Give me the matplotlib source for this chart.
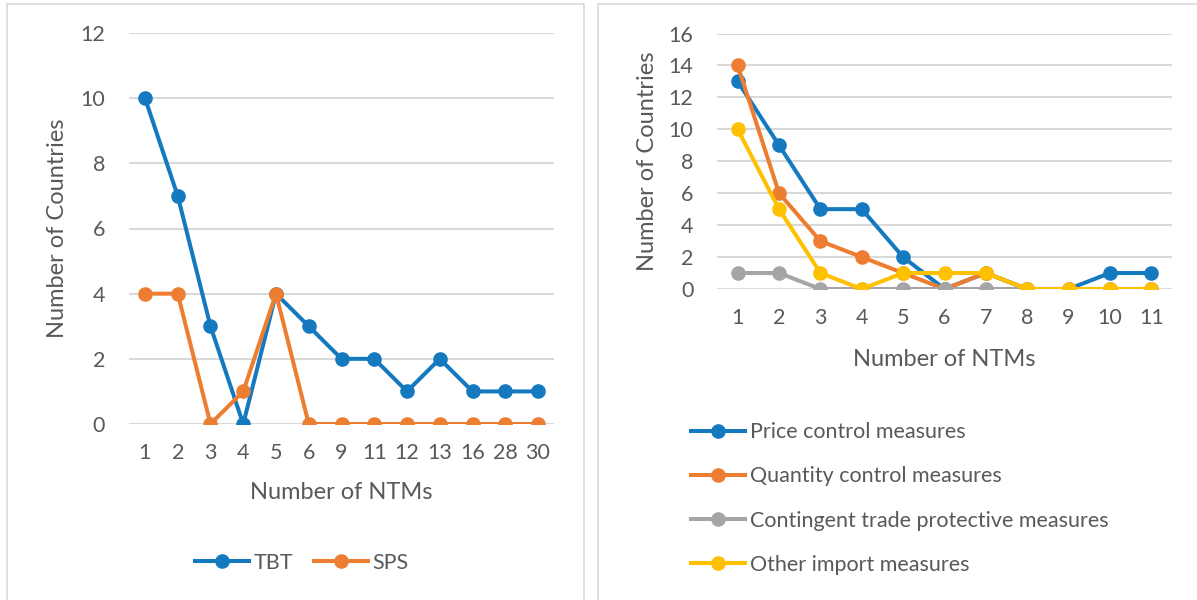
import matplotlib
matplotlib.use("Agg")
import matplotlib.pyplot as plt
from matplotlib.patches import Rectangle

plt.rcParams['font.family'] = ['Lato', 'DejaVu Sans']

# left panel: TBT / SPS
ntm_left = ["1", "2", "3", "4", "5", "6", "9", "11", "12", "13", "16", "28", "30"]
tbt = [10, 7, 3, 0, 4, 3, 2, 2, 1, 2, 1, 1, 1]
sps = [4, 4, 0, 1, 4, 0, 0, 0, 0, 0, 0, 0, 0]

# right panel: measure categories
ntm_right = ["1", "2", "3", "4", "5", "6", "7", "8", "9", "10", "11"]
price_ctrl = [13, 9, 5, 5, 2, 0, 1, 0, 0, 1, 1]
quantity_ctrl = [14, 6, 3, 2, 1, 0, 1, 0, 0, 0, 0]
contingent = [1, 1, 0, 0, 0, 0, 0, 0, 0, 0, 0]
other_import = [10, 5, 1, 0, 1, 1, 1, 0, 0, 0, 0]

blue, orange, grey, yellow = '#1479BF', '#ED7D31', '#A5A5A5', '#FFC000'
text_col = '#595959'
grid_col = '#D9D9D9'

W, H = 1197, 600
fig = plt.figure(figsize=(W / 100, H / 100), dpi=100)


def px_axes(x0, y0, x1, y1):
    return fig.add_axes([x0 / W, 1 - y1 / H, (x1 - x0) / W, (y1 - y0) / H])


# chart frames
fig.patches.append(Rectangle((7 / W, -0.01), 577 / W, 1.0 - 4 / H + 0.01,
                             transform=fig.transFigure, fill=False,
                             edgecolor=grid_col, linewidth=1.2))
fig.patches.append(Rectangle((598 / W, -0.01), 0.6, 1.0 - 4 / H + 0.01,
                             transform=fig.transFigure, fill=False,
                             edgecolor=grid_col, linewidth=1.2))

line_kw = dict(linewidth=2.9, marker='o', markersize=9.5, solid_joinstyle='round')
tick_fs, label_fs, legend_fs = 15.5, 17, 15.5


def style(ax, ymax, cats):
    ax.set_ylim(0, ymax)
    ax.set_xlim(-0.5, len(cats) - 0.5)
    ax.set_yticks(range(0, ymax + 1, 2))
    ax.set_xticks(range(len(cats)))
    ax.set_xticklabels(cats)
    for y in range(0, ymax + 1, 2):
        ax.axhline(y, color=grid_col, linewidth=1.5, zorder=0)
    for s in ax.spines.values():
        s.set_visible(False)
    ax.tick_params(length=0, labelsize=tick_fs, colors=text_col)
    ax.tick_params(axis='y', pad=17)
    ax.tick_params(axis='x', pad=14)
    ax.set_ylabel("Number of Countries", fontsize=label_fs, color=text_col)
    ax.set_xlabel("Number of NTMs", fontsize=label_fs, color=text_col)
    ax.xaxis.label.set_va('center')
    ax.yaxis.label.set_va('center')
    ax.patch.set_alpha(0)


ax1 = px_axes(128.6, 33, 554.4, 424)
style(ax1, 12, ntm_left)
x1 = range(len(ntm_left))
ax1.plot(x1, tbt, color=blue, label='TBT', **line_kw)
ax1.plot(x1, sps, color=orange, label='SPS', **line_kw)
ax1.xaxis.set_label_coords(0.5, -0.176)
ax1.yaxis.set_label_coords(-0.168, 0.5)
ax1.legend(loc='center', bbox_to_anchor=(302 / W, 1 - 563 / H),
           bbox_transform=fig.transFigure, ncol=2, frameon=False,
           fontsize=legend_fs, labelcolor=text_col, handlelength=2.5,
           handletextpad=0.2, columnspacing=1.0)

ax2 = px_axes(717, 33.5, 1172, 289)
style(ax2, 16, ntm_right)
x2 = range(len(ntm_right))
ax2.plot(x2, price_ctrl, color=blue, label='Price control measures', **line_kw)
ax2.plot(x2, quantity_ctrl, color=orange, label='Quantity control measures', **line_kw)
ax2.plot(x2, contingent, color=grey, label='Contingent trade protective measures', **line_kw)
ax2.plot(x2, other_import, color=yellow, label='Other import measures', **line_kw)
ax2.xaxis.set_label_coords(0.5, -0.274)
ax2.yaxis.set_label_coords(-0.153, 0.5)
ax2.legend(loc='upper left', bbox_to_anchor=(672 / W, 1 - 403 / H),
           bbox_transform=fig.transFigure, ncol=1, frameon=False,
           fontsize=legend_fs, labelcolor=text_col, handlelength=2.5,
           handletextpad=0.2, labelspacing=1.12)

fig.savefig("out.png", dpi=100)
